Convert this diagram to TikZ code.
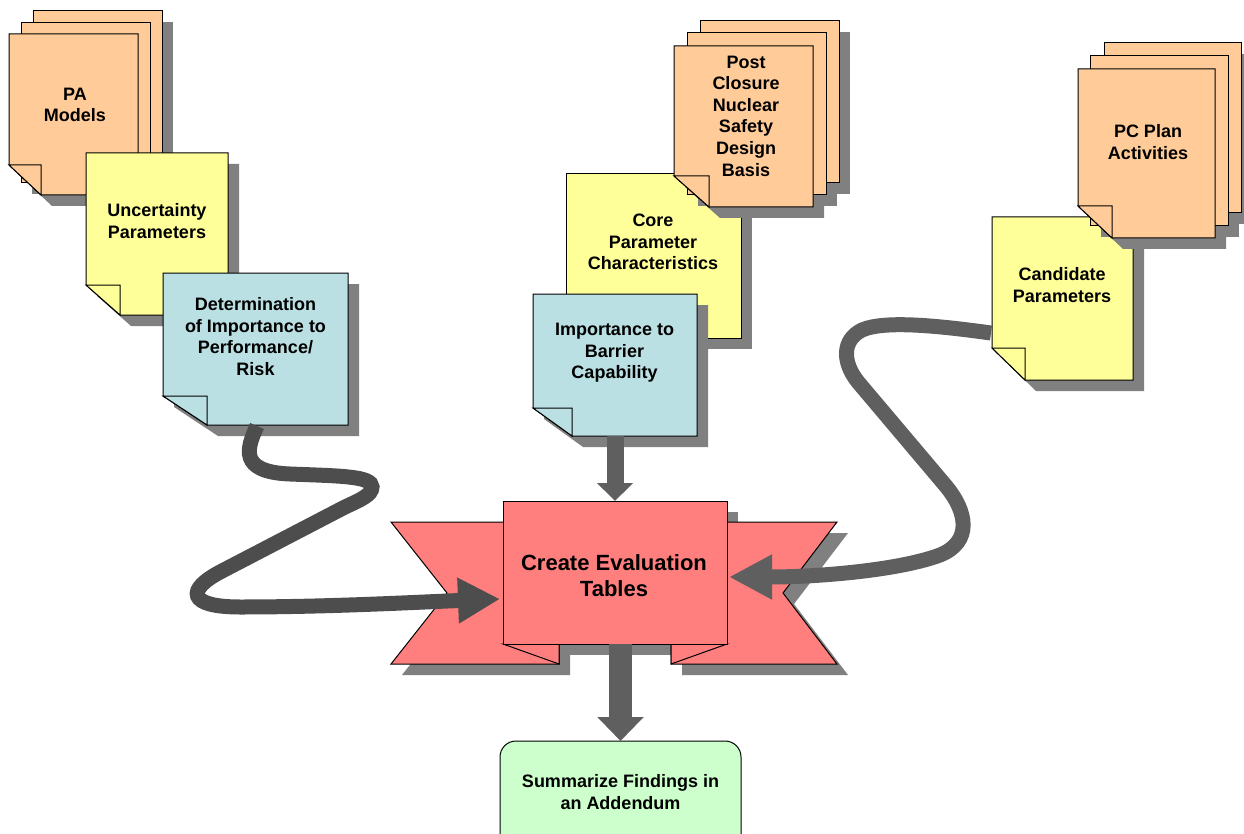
\documentclass[tikz,border=0pt]{standalone}
\usepackage{fontspec}
\setmainfont{Liberation Sans}
\usetikzlibrary{arrows.meta}
\definecolor{orng}{HTML}{FFCC99}
\definecolor{yel}{HTML}{FFFF99}
\definecolor{blu}{HTML}{BBE0E3}
\definecolor{pnk}{HTML}{FF7F7F}
\definecolor{grn}{HTML}{CCFFCC}
\definecolor{shd}{HTML}{808080}
\definecolor{arrA}{HTML}{4D4D4D}
\definecolor{arrB}{HTML}{5F5F5F}
% page with folded bottom-left corner: x1 y1 x2 y2 foldw foldh colour
\newcommand\foldpg[7]{%
  \filldraw[pageline,fill=#7] (#1,#2) -- (#3,#2) -- (#3,#4) -- ({#1+#5},#4) -- (#1,{#4-#6}) -- cycle;
  \filldraw[pageline,fill=#7] (#1,{#4-#6}) -- ({#1+#5},{#4-#6}) -- ({#1+#5},#4) -- cycle;}
\newcommand\foldsh[6]{%
  \fill[shd] ({#1+11},{#2+11}) -- ({#3+11},{#2+11}) -- ({#3+11},{#4+11}) -- ({#1+#5+11},{#4+11}) -- ({#1+11},{#4-#6+11}) -- cycle;}
\newcommand\rectpg[5]{\filldraw[pageline,fill=#5] (#1,#2) rectangle (#3,#4);}
\newcommand\rectsh[4]{\fill[shd] ({#1+11},{#2+11}) rectangle ({#3+11},{#4+11});}
\begin{document}
\begin{tikzpicture}[x=1pt,y=-1pt,
  pageline/.style={draw=black,line width=1pt},
  txt/.style={font=\bfseries\fontsize{18}{21.6}\selectfont,align=center,inner sep=0pt},
  bigtxt/.style={font=\bfseries\fontsize{22}{26}\selectfont,align=center,inner sep=0pt},
  area/.style={inner sep=0pt,outer sep=0pt},
  straw/.style={draw=arrB},
  curvA/.style={draw=arrA,line width=15pt,-{Triangle[width=43pt 0 0,length=42pt 0 0]}},
  curvB/.style={draw=arrB,line width=15pt,-{Triangle[width=42pt 0 0,length=43pt 0 0]}}]
\useasboundingbox (0,0) rectangle (1244,834);
\clip (0,0) rectangle (1244,834);

% ---------- left group ----------
\rectsh{33}{11}{162}{171}
\rectsh{21}{23}{150}{183}
\foldsh{9}{34}{138}{195}{32}{30}
\rectpg{33}{11}{162}{171}{orng}
\rectpg{21}{23}{150}{183}{orng}
\foldpg{9}{34}{138}{195}{32}{30}{orng}
\foldsh{86}{153}{228}{315}{34}{30}
\foldpg{86}{153}{228}{315}{34}{30}{yel}
\foldsh{163}{273}{348}{425}{44}{29}
\foldpg{163}{273}{348}{425}{44}{29}{blu}

% ---------- middle group ----------
\rectsh{566}{174}{741}{338}
\rectpg{566}{174}{741}{338}{yel}
\rectsh{700}{21}{839}{183}
\rectsh{687}{33}{826}{195}
\foldsh{674}{46}{813}{207}{35}{31}
\rectpg{700}{21}{839}{183}{orng}
\rectpg{687}{33}{826}{195}{orng}
\foldpg{674}{46}{813}{207}{35}{31}{orng}
\foldsh{533}{294}{697}{436}{39}{28}
\foldpg{533}{294}{697}{436}{39}{28}{blu}

% ---------- right group ----------
\foldsh{992}{217}{1133}{380}{33}{32}
\foldpg{992}{217}{1133}{380}{33}{32}{yel}
\rectsh{1104}{43}{1241}{213}
\rectsh{1090}{56}{1228}{226}
\foldsh{1078}{69}{1215}{238}{34}{32}
\rectpg{1104}{43}{1241}{213}{orng}
\rectpg{1090}{56}{1228}{226}{orng}
\foldpg{1078}{69}{1215}{238}{34}{32}{orng}

% ---------- banner ----------
\fill[shd] (514,512) rectangle (738,655);
\fill[shd] (402,533) -- (570,533) -- (570,675) -- (402,675) -- (458,604) -- cycle;
\fill[shd] (848,533) -- (682,533) -- (682,675) -- (848,675) -- (794,604) -- cycle;
\filldraw[pageline,fill=pnk] (391,522) -- (559,522) -- (559,664) -- (391,664) -- (447,593) -- cycle;
\filldraw[pageline,fill=pnk] (837,522) -- (671,522) -- (671,664) -- (837,664) -- (783,593) -- cycle;
\filldraw[pageline,fill=pnk] (503,644) -- (559,664) -- (559,644) -- cycle;
\filldraw[pageline,fill=pnk] (727,644) -- (671,664) -- (671,644) -- cycle;
\node[area,pageline,fill=pnk,minimum width=224pt,minimum height=143pt] (create) at (615,572.5) {};
\node[bigtxt] (createtxt) at (614,576) {Create Evaluation\\Tables};

% ---------- summary ----------
\node[area,pageline,fill=grn,rounded corners=16pt,minimum width=241pt,minimum height=110pt] (sum) at (620.5,796) {};
\node[txt] (sumtxt) at (620.5,792) {Summarize Findings in\\an Addendum};

% ---------- page areas and texts ----------
\node[area,minimum width=185pt,minimum height=152pt] (det) at (255.5,349) {};
\node[area,minimum width=164pt,minimum height=142pt] (imp) at (615,365) {};
\node[area,minimum width=141pt,minimum height=163pt] (cand) at (1062.5,298.5) {};
\node[txt] (pa) at (75,105) {PA\\Models};
\node[txt] (unc) at (157,221) {Uncertainty\\Parameters};
\node[txt] (dett) at (255.5,336.5) {Determination\\of Importance to\\Performance/\\Risk};
\node[txt] (post) at (746,116) {Post\\Closure\\Nuclear\\Safety\\Design\\Basis};
\node[txt] (core) at (653,242) {Core\\Parameter\\Characteristics};
\node[txt] (impt) at (614.5,353) {Importance to\\Barrier\\Capability};
\node[txt] (pc) at (1148,142) {PC Plan\\Activities};
\node[txt] (candt) at (1062,285) {Candidate\\Parameters};

% ---------- connectors ----------
\coordinate (s1) at (257,426);
\coordinate (e1) at (500,599);
\coordinate (s2) at (991,333);
\coordinate (e2) at (729,577);
\draw[straw,line width=17pt,-{Triangle[width=35pt 0 0,length=18pt 0 0]}] (imp.south) -- (create.north);
\draw[straw,line width=23pt,-{Triangle[width=45pt 0 0,length=24pt 0 0]}] (create.south -| sum.north) -- (sum.north);
\draw[curvA] (s1) .. controls (247,448) and (238,472) .. (290,474)
  .. controls (340,476) and (372,476) .. (372,487)
  .. controls (372,495) and (360,500) .. (345,507)
  -- (222,571)
  .. controls (185,590) and (188,607) .. (240,607)
  .. controls (330,607) and (420,602) .. (e1);
\draw[curvB] (s2) .. controls (940,326) and (885,320) .. (862,330)
  .. controls (842,340) and (842,362) .. (858,382)
  -- (945,485)
  .. controls (968,512) and (972,542) .. (940,555)
  .. controls (900,570) and (820,577) .. (e2);
\end{tikzpicture}
\end{document}
